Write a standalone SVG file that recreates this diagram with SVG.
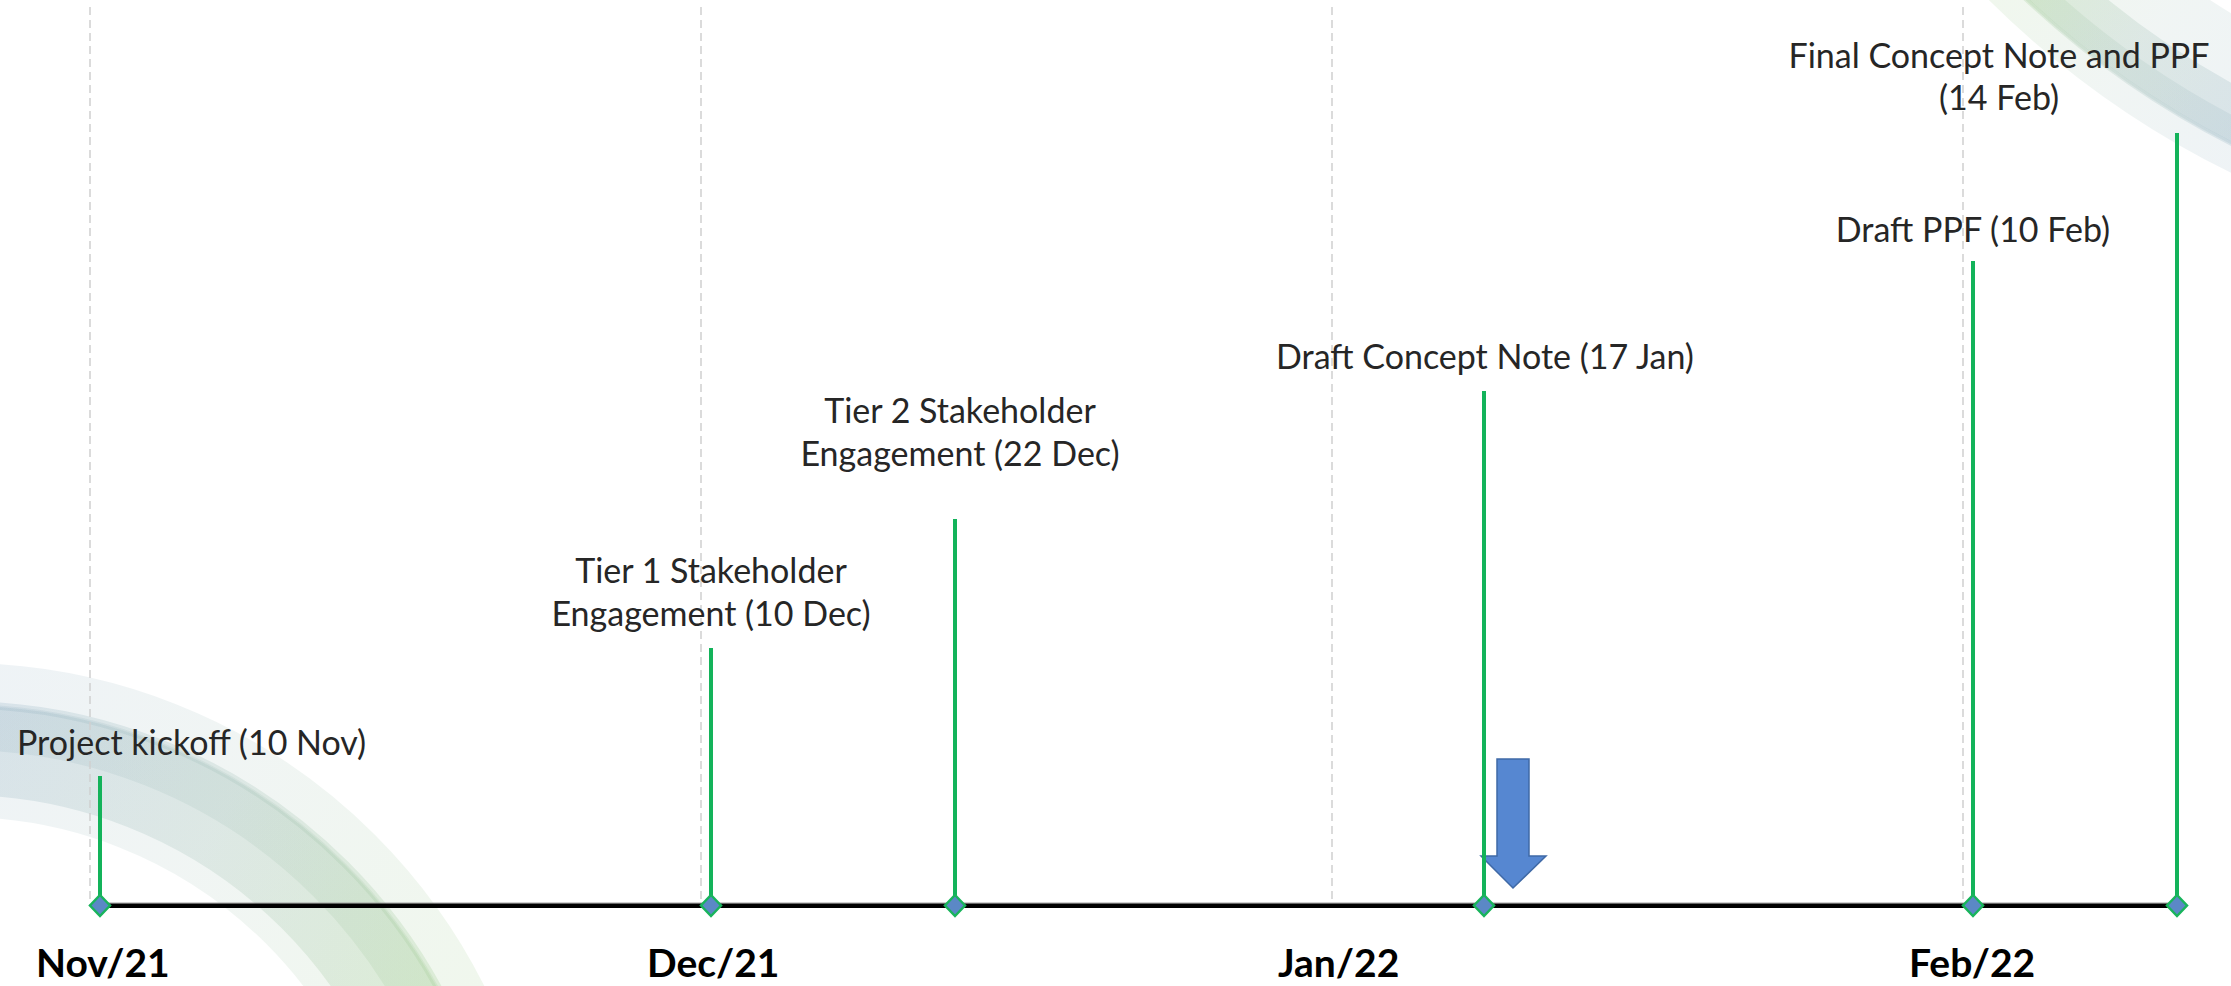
<svg xmlns="http://www.w3.org/2000/svg" width="2231" height="986" viewBox="0 0 2231 986">
  <defs>
    <linearGradient id="gBL" gradientUnits="userSpaceOnUse" x1="0" y1="700" x2="470" y2="986">
      <stop offset="0" stop-color="#7fa3b8"/>
      <stop offset="0.45" stop-color="#8fb3a8"/>
      <stop offset="1" stop-color="#8cc276"/>
    </linearGradient>
    <linearGradient id="gTR" gradientUnits="userSpaceOnUse" x1="1990" y1="0" x2="2231" y2="170">
      <stop offset="0" stop-color="#8cc276"/>
      <stop offset="0.5" stop-color="#8fb3a8"/>
      <stop offset="1" stop-color="#7fa3b8"/>
    </linearGradient>
    <style>
      .lbl { font-family: Lato, "Liberation Sans", sans-serif; font-size: 34px; fill: #262626; }
      .mon { font-family: Lato, "Liberation Sans", sans-serif; font-size: 39px; font-weight: bold; fill: #000000; }
      .grid { stroke: #cfcfcf; stroke-width: 1.5; stroke-dasharray: 8 5; fill: none; }
      .stem { stroke: #13b35a; stroke-width: 4; fill: none; }
      .dia { fill: #5b88c6; stroke: #19b45c; stroke-width: 2.5; }
      .swbl { fill: none; stroke: url(#gBL); }
      .swtr { fill: none; stroke: url(#gTR); }
    </style>
  </defs>
  <rect x="0" y="0" width="2231" height="986" fill="#ffffff"/>

  <g id="background-swooshes">
    <circle class="swbl" cx="-40" cy="1250" r="510" stroke-width="154" opacity="0.13"/>
    <circle class="swbl" cx="-40" cy="1250" r="502" stroke-width="94" opacity="0.2"/>
    <circle class="swbl" cx="-40" cy="1250" r="523" stroke-width="46" opacity="0.15"/>
    <circle class="swbl" cx="-40" cy="1250" r="543" stroke-width="3" opacity="0.18"/>
    <circle class="swtr" cx="2643" cy="-661" r="860" stroke-width="140" opacity="0.13"/>
    <circle class="swtr" cx="2643" cy="-661" r="878" stroke-width="56" opacity="0.2"/>
    <circle class="swtr" cx="2643" cy="-661" r="890" stroke-width="24" opacity="0.15"/>
    <circle class="swtr" cx="2643" cy="-661" r="903" stroke-width="3" opacity="0.18"/>
  </g>

  <g id="gridlines">
    <line class="grid" x1="90" y1="7" x2="90" y2="905"/>
    <line class="grid" x1="701" y1="7" x2="701" y2="905"/>
    <line class="grid" x1="1332" y1="7" x2="1332" y2="905"/>
    <line class="grid" x1="1963" y1="7" x2="1963" y2="905"/>
  </g>

  <g id="arrow-marker">
    <polygon points="1497,759 1529,759 1529,856 1546,856 1513,888 1481,856 1497,856" fill="#5687d1" stroke="#3f69a6" stroke-width="1.5"/>
  </g>

  <g id="connectors">
    <line x1="100" y1="903" x2="2177" y2="903" stroke="#a0a0a0" stroke-width="1"/>
    <line x1="100" y1="905.8" x2="2177" y2="905.8" stroke="#000000" stroke-width="4.5"/>
    <line class="stem" x1="100" y1="776" x2="100" y2="905"/>
    <line class="stem" x1="711" y1="648" x2="711" y2="905"/>
    <line class="stem" x1="955" y1="519" x2="955" y2="905"/>
    <line class="stem" x1="1484" y1="391" x2="1484" y2="905"/>
    <line class="stem" x1="1973" y1="261" x2="1973" y2="905"/>
    <line class="stem" x1="2177" y1="133" x2="2177" y2="905"/>
  </g>

  <g id="m-kickoff">
    <polygon class="dia" points="100,895 110,905.5 100,916 90,905.5"/>
    <text class="lbl" x="17" y="755">Project kickoff (10 Nov)</text>
  </g>
  <g id="m-tier1">
    <polygon class="dia" points="711,895 721,905.5 711,916 701,905.5"/>
    <text class="lbl" text-anchor="middle"><tspan x="711" y="583">Tier 1 Stakeholder</tspan><tspan x="711" y="626">Engagement (10 Dec)</tspan></text>
  </g>
  <g id="m-tier2">
    <polygon class="dia" points="955,895 965,905.5 955,916 945,905.5"/>
    <text class="lbl" text-anchor="middle"><tspan x="960" y="423">Tier 2 Stakeholder</tspan><tspan x="960" y="466">Engagement (22 Dec)</tspan></text>
  </g>
  <g id="m-draft-cn">
    <polygon class="dia" points="1484,895 1494,905.5 1484,916 1474,905.5"/>
    <text class="lbl" x="1485" y="369" text-anchor="middle">Draft Concept Note (17 Jan)</text>
  </g>
  <g id="m-draft-ppf">
    <polygon class="dia" points="1973,895 1983,905.5 1973,916 1963,905.5"/>
    <text class="lbl" x="1973" y="242" text-anchor="middle">Draft PPF (10 Feb)</text>
  </g>
  <g id="m-final">
    <polygon class="dia" points="2177,895 2187,905.5 2177,916 2167,905.5"/>
    <text class="lbl" text-anchor="middle"><tspan x="1999" y="68">Final Concept Note and PPF</tspan><tspan x="1999" y="110">(14 Feb)</tspan></text>
  </g>

  <g id="month-nov"><text class="mon" x="36" y="977">Nov/21</text></g>
  <g id="month-dec"><text class="mon" x="647" y="977">Dec/21</text></g>
  <g id="month-jan"><text class="mon" x="1278" y="977">Jan/22</text></g>
  <g id="month-feb"><text class="mon" x="1909" y="977">Feb/22</text></g>
</svg>
